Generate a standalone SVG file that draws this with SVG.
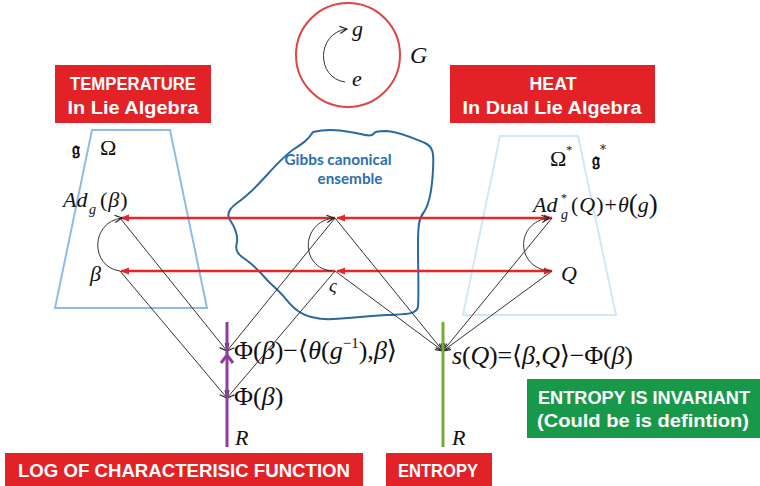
<svg xmlns="http://www.w3.org/2000/svg" width="760" height="486" viewBox="0 0 760 486">
<defs>
<style>
.box{fill:#e32228}
.gbox{fill:#18994a}
.bt{font-family:"Liberation Sans","DejaVu Sans",sans-serif;font-weight:bold;font-size:18px;fill:#fff;text-anchor:middle}
.m{font-family:"Liberation Serif","DejaVu Serif",serif;fill:#111}
.i{font-style:italic}
.blk{stroke:#333;stroke-width:1;fill:none}
.red{stroke:#e8262a;stroke-width:2.5;fill:none}
.frak{font-family:"DejaVu Serif","DejaVu Sans",serif;font-weight:bold;font-size:18px;fill:#111}
</style>
<marker id="ah" viewBox="0 0 10 10" refX="9" refY="5" markerWidth="9" markerHeight="9" markerUnits="userSpaceOnUse" orient="auto">
<path d="M1,1 L9,5 L1,9" fill="none" stroke="#222" stroke-width="1.3"/>
</marker>
<marker id="rh" viewBox="0 0 10 10" refX="9" refY="5" markerWidth="9" markerHeight="9" markerUnits="userSpaceOnUse" orient="auto-start-reverse">
<path d="M0,1 L10,5 L0,9 Z" fill="#e8262a"/>
</marker>
</defs>
<rect width="760" height="486" fill="#fff"/>

<g id="group-G">
<circle cx="348" cy="55" r="52" fill="none" stroke="#e04444" stroke-width="2"/>
<path class="blk" d="M345,82 C316,78 316,33 347,29" marker-end="url(#ah)"/>
<text class="m i" x="352" y="36" font-size="22">g</text>
<text class="m i" x="352" y="86" font-size="22">e</text>
<text class="m i" x="410" y="63" font-size="24">G</text>
</g>

<g id="temperature-label">
<rect class="box" x="55" y="65" width="156" height="58"/>
<text class="bt" x="133" y="90" textLength="126" lengthAdjust="spacingAndGlyphs">TEMPERATURE</text>
<text class="bt" x="133" y="114" textLength="131" lengthAdjust="spacingAndGlyphs">In Lie Algebra</text>
</g>

<g id="heat-label">
<rect class="box" x="450" y="65" width="205" height="58"/>
<text class="bt" x="553" y="90" textLength="47" lengthAdjust="spacingAndGlyphs">HEAT</text>
<text class="bt" x="552" y="114" textLength="179" lengthAdjust="spacingAndGlyphs">In Dual Lie Algebra</text>
</g>

<g id="lie-algebra">
<polygon points="92,130 170,130 207,308 55,308" fill="none" stroke="#8dbde6" stroke-width="2"/>
<text class="frak" x="72" y="155">𝔤</text>
<text class="m" x="100" y="155" font-size="22">Ω</text>
</g>

<g id="dual-lie-algebra">
<polygon points="500,136 578,136 616,315 463,315" fill="none" stroke="#cfe7f6" stroke-width="2"/>
<text class="m" x="550" y="166" font-size="22">Ω<tspan font-size="12" dy="-12">*</tspan></text>
<text class="frak" x="592" y="166">𝔤<tspan font-size="12" font-weight="normal" dy="-12">*</tspan></text>
</g>

<g id="gibbs-ensemble">
<path d="M313,132 C325,129 340,130 350,132 C360,133 366,137 372,135 C375,133 373,131 387,131 C400,132 413,138 425,143 C433,147 434,152 433,170 C432,190 430,203 424,212 C419,218 418,225 418,245 C418,270 419,290 418,307 C416,315 405,314 387,315 C370,316 350,318 333,319 C318,320 305,316 298,311 C292,307 289,303 285,298 C280,292 274,287 268,281 C262,274 255,266 245,259 C237,254 235,250 237,242 C238,234 234,226 230,220 C226,214 230,208 237,203 C247,196 257,186 266,176 C276,165 284,156 294,149 C302,144 308,140 313,132 Z" fill="none" stroke="#2b68a0" stroke-width="2"/>
<text x="338" y="165" font-family="Lato,'Open Sans',sans-serif" font-weight="bold" font-size="14.5" fill="#2f6ead" text-anchor="middle" textLength="107" lengthAdjust="spacingAndGlyphs">Gibbs canonical</text>
<text x="350" y="184" font-family="Lato,'Open Sans',sans-serif" font-weight="bold" font-size="14.5" fill="#2f6ead" text-anchor="middle" textLength="65" lengthAdjust="spacingAndGlyphs">ensemble</text>
</g>

<g id="connectors">
<line class="red" x1="335" y1="218" x2="121" y2="218" marker-end="url(#rh)"/>
<line class="red" x1="337" y1="218" x2="552" y2="218" marker-start="url(#rh)" marker-end="url(#rh)"/>
<line class="red" x1="335" y1="271" x2="121" y2="271" marker-end="url(#rh)"/>
<line class="red" x1="337" y1="271" x2="552" y2="271" marker-start="url(#rh)" marker-end="url(#rh)"/>
<path class="blk" d="M120,271 C90,267 90,222 122,218" marker-end="url(#ah)"/>
<path class="blk" d="M332,271 C300,268 300,222 334,218" marker-end="url(#ah)"/>
<path class="blk" d="M550,271 C515,268 515,222 549,218" marker-end="url(#ah)"/>
<line class="blk" x1="120" y1="218" x2="227" y2="351" marker-end="url(#ah)"/>
<line class="blk" x1="120" y1="271" x2="227" y2="398" marker-end="url(#ah)"/>
<line class="blk" x1="335" y1="218" x2="227" y2="351" marker-end="url(#ah)"/>
<line class="blk" x1="335" y1="271" x2="227" y2="398" marker-end="url(#ah)"/>
<line class="blk" x1="335" y1="218" x2="443" y2="351" marker-end="url(#ah)"/>
<line class="blk" x1="335" y1="271" x2="443" y2="351" marker-end="url(#ah)"/>
<line class="blk" x1="552" y1="218" x2="443" y2="351" marker-end="url(#ah)"/>
<line class="blk" x1="552" y1="271" x2="443" y2="351" marker-end="url(#ah)"/>
<line x1="227" y1="322" x2="227" y2="447" stroke="#8e3c9e" stroke-width="3"/>
<path d="M221,363 L227,355 L233,363" fill="none" stroke="#8e3c9e" stroke-width="3"/>
<line x1="443" y1="322" x2="443" y2="447" stroke="#78aa3a" stroke-width="3"/>
</g>

<g id="node-adg-beta">
<text class="m" y="207" font-size="22"><tspan class="i" x="63">Ad</tspan><tspan class="i" x="89" y="214" font-size="14">g</tspan><tspan x="100" y="207">(</tspan><tspan class="i" dx="1">β</tspan><tspan dx="1">)</tspan></text>
</g>
<g id="node-beta">
<text class="m i" x="90" y="281" font-size="22">β</text>
</g>
<g id="node-sigma">
<text class="m i" x="329" y="292" font-size="19">ς</text>
</g>
<g id="node-adstar">
<text class="m" y="212" font-size="22"><tspan class="i" x="533">Ad</tspan><tspan x="561" y="202" font-size="12">*</tspan><tspan class="i" x="561" y="219" font-size="14">g</tspan><tspan x="571" y="212">(</tspan><tspan class="i" dx="1">Q</tspan><tspan dx="1">)</tspan><tspan dx="1">+</tspan><tspan class="i" dx="1">θ</tspan><tspan font-size="27" dy="1">(</tspan><tspan class="i" dy="-1">g</tspan><tspan font-size="27" dy="1">)</tspan></text>
</g>
<g id="node-Q">
<text class="m i" x="561" y="281" font-size="22">Q</text>
</g>
<g id="node-phi-shift">
<text class="m" x="234" y="359" font-size="26" textLength="163" lengthAdjust="spacing">Φ(<tspan class="i">β</tspan>)−⟨<tspan class="i">θ</tspan>(<tspan class="i">g</tspan><tspan font-size="15" dy="-11">−1</tspan><tspan dy="11">),</tspan><tspan class="i">β</tspan>⟩</text>
</g>
<g id="node-phi">
<text class="m" x="234" y="405" font-size="26">Φ(<tspan class="i">β</tspan>)</text>
</g>
<g id="node-R-left">
<text class="m i" x="235" y="445" font-size="22">R</text>
</g>
<g id="node-entropy-s">
<text class="m" x="452" y="364" font-size="26" textLength="181" lengthAdjust="spacing"><tspan class="i">s</tspan>(<tspan class="i">Q</tspan>)=⟨<tspan class="i">β</tspan>,<tspan class="i">Q</tspan>⟩−Φ(<tspan class="i">β</tspan>)</text>
</g>
<g id="node-R-right">
<text class="m i" x="452" y="445" font-size="22">R</text>
</g>

<g id="invariant-label">
<rect class="gbox" x="527" y="379" width="233" height="59"/>
<text class="bt" x="644" y="404" textLength="212" lengthAdjust="spacingAndGlyphs">ENTROPY IS INVARIANT</text>
<text class="bt" x="643" y="427" textLength="212" lengthAdjust="spacingAndGlyphs">(Could be is defintion)</text>
</g>
<g id="log-label">
<rect class="box" x="5" y="453" width="358" height="33"/>
<text class="bt" x="184" y="477" textLength="332" lengthAdjust="spacingAndGlyphs">LOG OF CHARACTERISIC FUNCTION</text>
</g>
<g id="entropy-label">
<rect class="box" x="386" y="453" width="106" height="33"/>
<text class="bt" x="438" y="477" textLength="80" lengthAdjust="spacingAndGlyphs">ENTROPY</text>
</g>
</svg>
